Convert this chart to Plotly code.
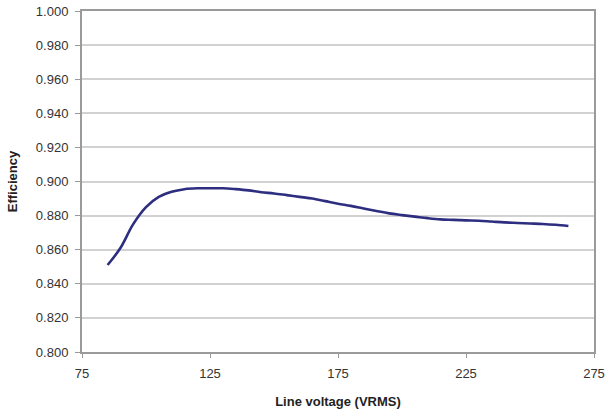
import plotly.graph_objects as go

voltage = [85, 90, 95, 100, 105, 110, 115, 120, 125, 130, 135, 140, 145, 150,
           155, 160, 165, 170, 175, 180, 185, 190, 195, 200, 205, 210, 215,
           220, 225, 230, 235, 240, 245, 250, 255, 260, 265]
efficiency = [0.851, 0.861, 0.875, 0.885, 0.891, 0.894, 0.8955, 0.896, 0.896,
              0.896, 0.8955, 0.8948, 0.8937, 0.8930, 0.8920, 0.8910, 0.8900,
              0.8885, 0.8870, 0.8857, 0.8842, 0.8827, 0.8813, 0.8803, 0.8794,
              0.8785, 0.8778, 0.8775, 0.8772, 0.8770, 0.8765, 0.8760, 0.8757,
              0.8754, 0.8751, 0.8746, 0.8739]

x_ticks = [75, 125, 175, 225, 275]
y_ticks = [0.80, 0.82, 0.84, 0.86, 0.88, 0.90, 0.92, 0.94, 0.96, 0.98, 1.00]

fig = go.Figure()
fig.add_trace(go.Scatter(
    x=voltage, y=efficiency, mode="lines",
    line=dict(color="#2e2e80", width=2.6, shape="spline"),
    showlegend=False, hoverinfo="skip",
))

font = "Liberation Sans, Arial, sans-serif"
fig.update_layout(
    width=606, height=412,
    margin=dict(l=82, r=12, t=11, b=60),
    paper_bgcolor="white", plot_bgcolor="white",
    font=dict(family=font, size=13, color="#333333"),
    xaxis=dict(
        range=[75, 275], tickvals=x_ticks, ticktext=[str(v) for v in x_ticks],
        showgrid=False, zeroline=False, automargin=False,
        showline=True, linecolor="#9a9a9a", linewidth=2, mirror=True,
        ticks="outside", ticklen=4, tickcolor="#9a9a9a", tickwidth=1,
        ticklabelstandoff=4,
        tickfont=dict(family=font, size=13, color="#333333"),
        title=dict(text="<b>Line voltage (VRMS)</b>", standoff=17,
                   font=dict(family=font, size=13, color="#222222")),
    ),
    yaxis=dict(
        range=[0.8, 1.0], tickvals=y_ticks, ticktext=[f"{v:.3f}" for v in y_ticks],
        showgrid=True, gridcolor="#d2d2d2", gridwidth=2, zeroline=False,
        automargin=False,
        showline=True, linecolor="#9a9a9a", linewidth=2, mirror=True,
        ticks="outside", ticklen=5, tickcolor="#9a9a9a", tickwidth=1,
        ticklabelstandoff=4,
        tickfont=dict(family=font, size=13, color="#333333"),
        title=dict(text="<b>Efficiency</b>", standoff=15,
                   font=dict(family=font, size=13, color="#222222")),
    ),
)

fig.write_html("out.html", config={"displayModeBar": False},
               post_script="document.body.style.margin='0';")
